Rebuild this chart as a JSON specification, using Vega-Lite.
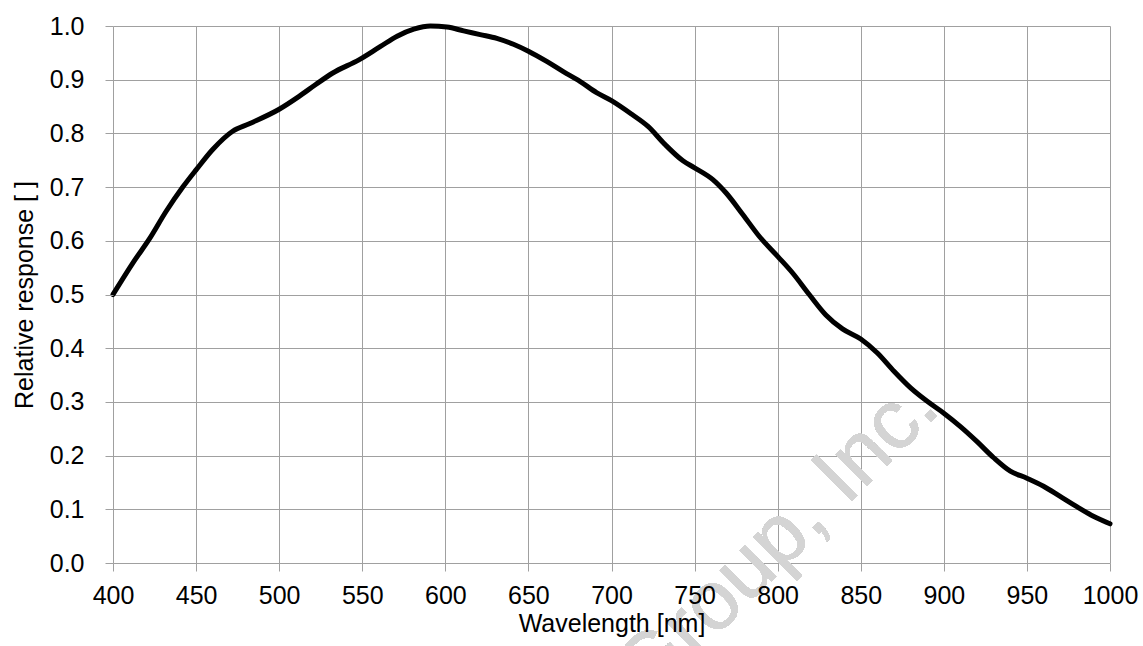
{
  "$schema": "https://vega.github.io/schema/vega-lite/v6.json",
  "autosize": "none",
  "width": 997,
  "height": 537,
  "padding": {"left": 113, "top": 26, "right": 33, "bottom": 83},
  "background": "white",
  "config": {
    "view": {"stroke": null},
    "axis": {
      "labelFont": "Liberation Sans",
      "titleFont": "Liberation Sans",
      "labelFontSize": 25,
      "titleFontSize": 25,
      "labelColor": "#000000",
      "titleColor": "#000000",
      "titleFontWeight": "normal",
      "gridColor": "#a0a0a0",
      "gridOpacity": 1,
      "gridWidth": 1,
      "tickColor": "#a0a0a0",
      "tickWidth": 1,
      "tickSize": 8,
      "domain": false
    }
  },
  "data": {
    "values": [
      {"wavelength": 400, "response": 0.500},
      {"wavelength": 412, "response": 0.559},
      {"wavelength": 422, "response": 0.604},
      {"wavelength": 432, "response": 0.655},
      {"wavelength": 442, "response": 0.700},
      {"wavelength": 450, "response": 0.732},
      {"wavelength": 460, "response": 0.770},
      {"wavelength": 472, "response": 0.804},
      {"wavelength": 482, "response": 0.818},
      {"wavelength": 500, "response": 0.845},
      {"wavelength": 512, "response": 0.869},
      {"wavelength": 522, "response": 0.891},
      {"wavelength": 532, "response": 0.912},
      {"wavelength": 548, "response": 0.937},
      {"wavelength": 561, "response": 0.962},
      {"wavelength": 571, "response": 0.981},
      {"wavelength": 581, "response": 0.994},
      {"wavelength": 591, "response": 1.000},
      {"wavelength": 601, "response": 0.998},
      {"wavelength": 611, "response": 0.991},
      {"wavelength": 621, "response": 0.984},
      {"wavelength": 631, "response": 0.977},
      {"wavelength": 641, "response": 0.966},
      {"wavelength": 650, "response": 0.953},
      {"wavelength": 661, "response": 0.934},
      {"wavelength": 671, "response": 0.915},
      {"wavelength": 681, "response": 0.897},
      {"wavelength": 691, "response": 0.876},
      {"wavelength": 700, "response": 0.861},
      {"wavelength": 712, "response": 0.836},
      {"wavelength": 722, "response": 0.813},
      {"wavelength": 732, "response": 0.780},
      {"wavelength": 743, "response": 0.749},
      {"wavelength": 750, "response": 0.736},
      {"wavelength": 761, "response": 0.714},
      {"wavelength": 769, "response": 0.689},
      {"wavelength": 779, "response": 0.649},
      {"wavelength": 789, "response": 0.608},
      {"wavelength": 800, "response": 0.571},
      {"wavelength": 809, "response": 0.540},
      {"wavelength": 819, "response": 0.500},
      {"wavelength": 829, "response": 0.462},
      {"wavelength": 839, "response": 0.436},
      {"wavelength": 850, "response": 0.417},
      {"wavelength": 860, "response": 0.391},
      {"wavelength": 870, "response": 0.357},
      {"wavelength": 880, "response": 0.326},
      {"wavelength": 890, "response": 0.301},
      {"wavelength": 900, "response": 0.279},
      {"wavelength": 910, "response": 0.254},
      {"wavelength": 920, "response": 0.226},
      {"wavelength": 930, "response": 0.196},
      {"wavelength": 940, "response": 0.171},
      {"wavelength": 950, "response": 0.158},
      {"wavelength": 960, "response": 0.143},
      {"wavelength": 970, "response": 0.124},
      {"wavelength": 980, "response": 0.105},
      {"wavelength": 990, "response": 0.087},
      {"wavelength": 1000, "response": 0.073}
    ]
  },
  "resolve": {"axis": {"x": "independent", "y": "independent"}},
  "layer": [
    {
      "mark": {"type": "point", "opacity": 0},
      "encoding": {
        "x": {
          "field": "wavelength",
          "type": "quantitative",
          "scale": {"domain": [400, 1000], "nice": false, "zero": false},
          "axis": {
            "orient": "bottom",
            "grid": true,
            "labels": false,
            "ticks": false,
            "title": null,
            "zindex": 0,
            "values": [400, 450, 500, 550, 600, 650, 700, 750, 800, 850, 900, 950, 1000]
          }
        },
        "y": {
          "field": "response",
          "type": "quantitative",
          "scale": {"domain": [0, 1], "nice": false},
          "axis": {
            "orient": "left",
            "grid": true,
            "labels": false,
            "ticks": false,
            "title": null,
            "zindex": 0,
            "values": [0, 0.1, 0.2, 0.3, 0.4, 0.5, 0.6, 0.7, 0.8, 0.9, 1.0]
          }
        }
      }
    },
    {
      "mark": {
        "type": "text",
        "text": "Group, Inc.",
        "font": "Liberation Sans",
        "fontSize": 84,
        "color": "#d4d4d4",
        "angle": -45,
        "align": "right",
        "baseline": "alphabetic"
      },
      "encoding": {
        "x": {"datum": 899, "type": "quantitative", "axis": null},
        "y": {"datum": 0.2836, "type": "quantitative", "axis": null}
      }
    },
    {
      "mark": {
        "type": "line",
        "color": "#000000",
        "strokeWidth": 5,
        "interpolate": "monotone",
        "strokeCap": "round",
        "strokeJoin": "round"
      },
      "encoding": {
        "x": {
          "field": "wavelength",
          "type": "quantitative",
          "axis": {
            "orient": "bottom",
            "grid": false,
            "zindex": 1,
            "title": "Wavelength [nm]",
            "values": [400, 450, 500, 550, 600, 650, 700, 750, 800, 850, 900, 950, 1000],
            "format": "d",
            "labelPadding": 12,
            "titlePadding": 3,
            "labelFlush": false,
            "labelOverlap": false
          }
        },
        "y": {
          "field": "response",
          "type": "quantitative",
          "axis": {
            "orient": "left",
            "grid": false,
            "zindex": 1,
            "title": "Relative response [ ]",
            "values": [0, 0.1, 0.2, 0.3, 0.4, 0.5, 0.6, 0.7, 0.8, 0.9, 1.0],
            "format": ".1f",
            "labelPadding": 21,
            "titlePadding": 12,
            "labelFlush": false,
            "labelOverlap": false
          }
        }
      }
    }
  ]
}
